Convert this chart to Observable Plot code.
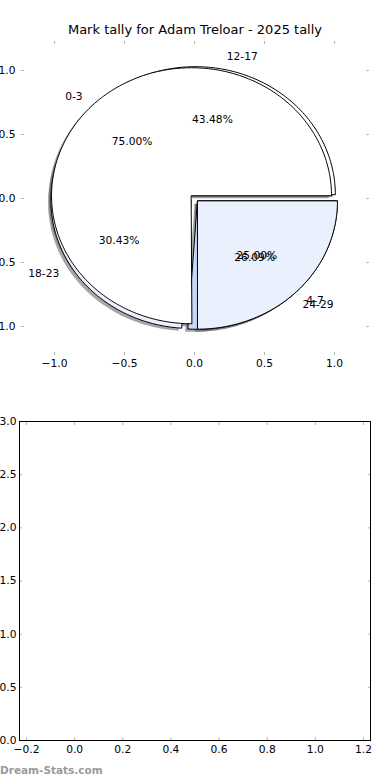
<!DOCTYPE html>
<html><head><meta charset="utf-8">
<script src="https://cdn.jsdelivr.net/npm/d3@7"></script>
<script src="https://cdn.jsdelivr.net/npm/@observablehq/plot@0.6"></script>
<style>
body{margin:0;background:#fff;font-family:"DejaVu Sans",sans-serif;}
#wrap{position:relative;width:390px;height:780px;overflow:hidden;background:#fff;}
#title{position:absolute;top:22px;left:0;width:390px;text-align:center;font-size:13px;line-height:16px;color:#000;}
#c1{position:absolute;top:0;left:0;}
#c2{position:absolute;top:390px;left:0;}
#wm{position:absolute;left:0;top:763px;font-size:10.5px;line-height:14px;font-weight:bold;color:#9a9a9a;}
</style></head><body>
<div id="wrap"><div id="c1"></div><div id="c2"></div><div id="title"></div><div id="wm"></div></div>
<script>
const titleText = "Mark tally for Adam Treloar - 2025 tally";
const watermark = "Dream-Stats.com";
const pie1Labels = ["0-3", "4-7"];
const pie1Counts = [3, 1];
const pie2Labels = ["12-17", "18-23", "24-29"];
const pie2Counts = [10, 7, 6];
const wedgeColors = ["#ffffff", "#eaf0fd", "#c6d7f7"];
const pieTicks = [-1, -0.5, 0, 0.5, 1];
const bottomXTicks = [-0.2, 0, 0.2, 0.4, 0.6, 0.8, 1.0, 1.2];
const bottomYTicks = [0, 0.5, 1, 1.5, 2, 2.5, 3];

document.getElementById("title").textContent = titleText;
document.getElementById("wm").textContent = watermark;

const explode = 0.03, shadowOff = 0.02;
function buildPie(labels, counts) {
  const total = d3.sum(counts);
  let a = 0;
  return labels.map((lab, i) => {
    const frac = counts[i] / total;
    const t1 = a, t2 = a + frac * 360; a = t2;
    const mid = (t1 + t2) / 2 * Math.PI / 180;
    const cx = explode * Math.cos(mid), cy = explode * Math.sin(mid);
    const pts = [[cx, cy]];
    const n = Math.max(2, Math.ceil(t2 - t1));
    for (let k = 0; k <= n; k++) {
      const t = (t1 + (t2 - t1) * k / n) * Math.PI / 180;
      pts.push([cx + Math.cos(t), cy + Math.sin(t)]);
    }
    const lx = cx + 1.1 * Math.cos(mid), ly = cy + 1.1 * Math.sin(mid);
    return {
      label: lab, pct: (frac * 100).toFixed(2) + "%", color: wedgeColors[i], pts,
      lx, ly, anchor: lx > 0 ? "start" : "end",
      px: cx + 0.6 * Math.cos(mid), py: cy + 0.6 * Math.sin(mid)
    };
  });
}
const pie1 = buildPie(pie1Labels, pie1Counts);
const pie2 = buildPie(pie2Labels, pie2Counts);
const all = [...pie1, ...pie2];

const fmt = d3.format(".1f");
const tickGray = "#b5b5b5";
const fs = 10.7;
const marks = [];
for (const w of all) {
  marks.push(Plot.line(w.pts, {x: d => d[0] - shadowOff, y: d => d[1] - shadowOff, curve: "linear-closed",
    fill: "#4d4d4d", fillOpacity: 0.5, stroke: "none"}));
}
for (const w of [...pie2, ...pie1]) {
  marks.push(Plot.line(w.pts, {x: d => d[0], y: d => d[1], curve: "linear-closed",
    fill: w.color, stroke: "black", strokeWidth: 1}));
}
for (const w of all) {
  marks.push(Plot.text([w], {x: "lx", y: "ly", text: "label", textAnchor: w.anchor, fontSize: fs, fill: "black"}));
  marks.push(Plot.text([w], {x: "px", y: "py", text: "pct", fontSize: fs, fill: "black"}));
}
marks.push(
  Plot.axisX(pieTicks, {anchor: "bottom", tickSize: -3, tickPadding: 7, tickFormat: fmt, stroke: tickGray, fill: "black", fontSize: fs}),
  Plot.axisX(pieTicks, {anchor: "top", tickSize: -3, tickFormat: () => "", stroke: tickGray}),
  Plot.axisY(pieTicks, {anchor: "left", tickSize: -3, tickPadding: 9, tickFormat: fmt, stroke: tickGray, fill: "black", fontSize: fs}),
  Plot.axisY(pieTicks, {anchor: "right", tickSize: -3, tickFormat: () => "", stroke: tickGray})
);

const chart1 = Plot.plot({
  width: 390, height: 390,
  marginTop: 40, marginBottom: 35, marginLeft: 21, marginRight: 22,
  x: {domain: [-1.2357, 1.2429], label: null},
  y: {domain: [-1.227, 1.234], label: null},
  style: {fontFamily: "DejaVu Sans, sans-serif", fontSize: "10.7px", background: "transparent", overflow: "visible"},
  marks
});
document.getElementById("c1").appendChild(chart1);

const chart2 = Plot.plot({
  width: 390, height: 390,
  marginTop: 31, marginBottom: 40, marginLeft: 19, marginRight: 20,
  x: {domain: [-0.229, 1.229], label: null},
  y: {domain: [0, 3], label: null},
  style: {fontFamily: "DejaVu Sans, sans-serif", fontSize: "10.7px", background: "transparent", overflow: "visible"},
  marks: [
    Plot.axisX(bottomXTicks, {anchor: "bottom", tickSize: -3, tickPadding: 8, tickFormat: fmt, stroke: tickGray, fill: "black", fontSize: fs}),
    Plot.axisX(bottomXTicks, {anchor: "top", tickSize: -3, tickFormat: () => "", stroke: tickGray}),
    Plot.axisY(bottomYTicks, {anchor: "left", tickSize: -3, tickPadding: 6, tickFormat: fmt, stroke: tickGray, fill: "black", fontSize: fs}),
    Plot.axisY(bottomYTicks, {anchor: "right", tickSize: -3, tickFormat: () => "", stroke: tickGray}),
    Plot.frame({stroke: "black", strokeWidth: 1})
  ]
});
document.getElementById("c2").appendChild(chart2);
</script>
</body></html>
